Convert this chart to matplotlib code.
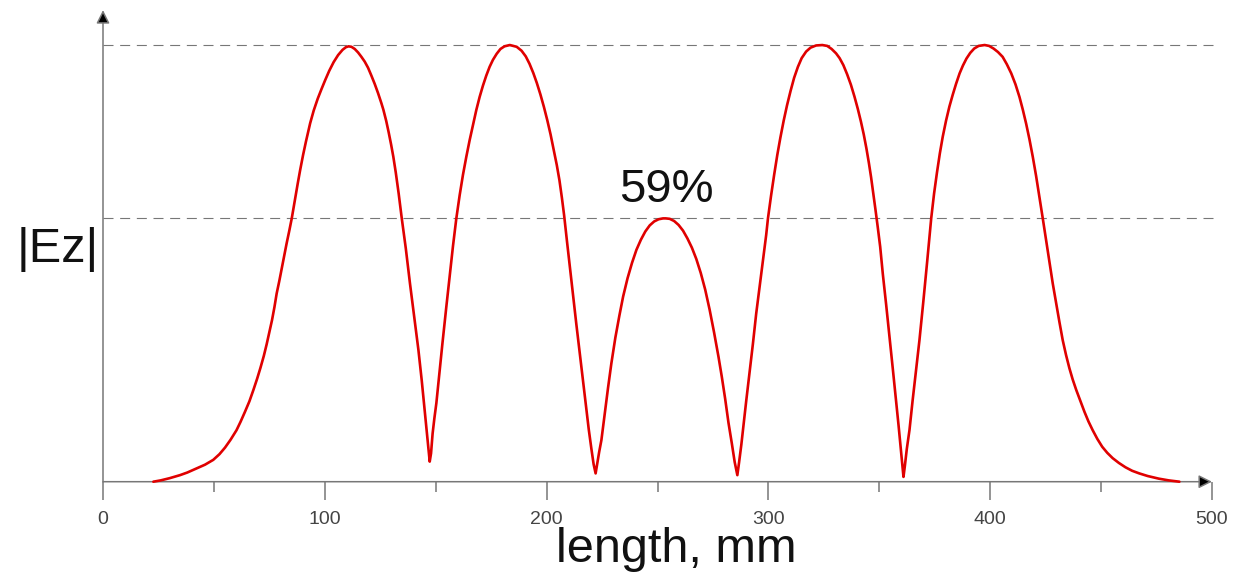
import matplotlib
matplotlib.use("Agg")
import matplotlib.pyplot as plt

# ---- data (length in mm, |Ez| normalised to peak = 1) ----
length_mm = [
    # lobe 1
    22.7, 26, 30, 34.7, 38, 42, 46, 49.7, 52.5, 55, 57.5, 60.2, 62, 64, 66, 67.8,
    69.5, 71, 72.5, 73.8, 75, 76.2, 77.3, 78.3, 79.5, 80.7, 81.8, 82.8, 84, 85.1,
    86.5, 87.8, 88.9, 90.2, 91.5, 93.4, 95, 96.8, 98.5, 100.2, 102, 104, 106, 108,
    109.5, 110.7, 112, 113.5, 115, 116.5, 118, 119.5, 121, 122.5, 124, 125.5, 126.4,
    127.7, 128.8, 129.9, 130.9, 132, 133.3, 134.7, 136.5, 138.4, 140.3, 142.2,
    143.7, 145, 146, 146.8,
    # lobe 2
    147.3, 147.9, 148.6, 149.4, 150.3, 151.5, 153, 154.8, 156.3, 157.8, 159.3,
    160.8, 162.3, 163.8, 165.3, 166.8, 168.3, 169.8, 171.3, 172.8, 174.3, 175.8,
    177.5, 179.2, 181, 183.4, 186.5, 188.7, 190.6, 192.3, 194, 195.6, 197.2, 198.8,
    200.3, 201.8, 203.2, 204.6, 205.8, 206.9, 207.9, 209.2, 210.6, 212.0, 213.4,
    214.9, 216.4, 217.8, 219, 220.2, 221.2,
    # lobe 3
    222.1, 222.8, 223.7, 224.7, 226.2, 227.7, 229.2, 231, 232.8, 234.5, 236.5,
    238.5, 240.5, 242.5, 244.5, 246.5, 248.5, 250.5, 252.5, 253.7, 255.5, 257.5,
    259.5, 261.5, 263.5, 265.5, 267.5, 269.5, 271.5, 273.5, 275.5, 277.5, 279,
    280.5, 282, 283.5, 284.8,
    # lobe 4
    286, 286.8, 287.8, 289, 290, 291.5, 293, 294.5, 296, 297.5, 299, 299.8, 301.2,
    302.6, 304, 305.4, 306.9, 308.4, 310, 311.6, 313.3, 315, 317, 319, 321.5, 324.3,
    326.5, 328.5, 330.5, 332.1, 333.8, 335.5, 337.2, 338.8, 340.3, 341.7, 343.0,
    344.2, 345.3, 346.3, 347.3, 348.3, 349.3, 350.4, 351.6, 353.1, 354.6, 356.1,
    357.6, 358.7, 359.7, 360.4,
    # lobe 5
    360.9, 361.5, 362.4, 363.6, 365, 366.5, 368.1, 369.8, 371.6, 373.4, 374.7, 376,
    377.3, 378.6, 380.1, 381.6, 383.1, 384.6, 386.2, 387.7, 389.3, 391, 392.8,
    394.8, 397.5, 399.5, 401.5, 403.5, 405.6, 407.5, 409.5, 411.4, 413.2, 414.7,
    416.2, 417.7, 419.2, 420.7, 422.2, 423.7, 425.2, 426.7, 428.2, 429.7, 431.2,
    432.7, 434.2, 435.7, 437.2, 438.8, 440.7, 442.5, 444.3, 446.2, 448.3, 450.5,
    452.8, 455.2, 458, 461, 464, 467.2, 471, 476, 480.5, 485.3,
]
ez_abs = [
    # lobe 1
    0.000, 0.003, 0.008, 0.015, 0.021, 0.030, 0.039, 0.050, 0.063, 0.078, 0.096,
    0.118, 0.137, 0.160, 0.184, 0.210, 0.236, 0.261, 0.288, 0.315, 0.342, 0.370,
    0.400, 0.431, 0.460, 0.492, 0.520, 0.546, 0.575, 0.603, 0.645, 0.683, 0.714,
    0.748, 0.779, 0.821, 0.850, 0.877, 0.899, 0.920, 0.941, 0.961, 0.977, 0.989,
    0.995, 0.997, 0.996, 0.991, 0.983, 0.973, 0.962, 0.948, 0.930, 0.911, 0.890,
    0.867, 0.852, 0.826, 0.800, 0.772, 0.744, 0.708, 0.660, 0.603, 0.535, 0.454,
    0.378, 0.302, 0.232, 0.165, 0.112, 0.070,
    # lobe 2
    0.046, 0.065, 0.110, 0.145, 0.180, 0.240, 0.315, 0.401, 0.470, 0.540, 0.603,
    0.656, 0.703, 0.744, 0.782, 0.817, 0.851, 0.881, 0.907, 0.930, 0.950, 0.966,
    0.980, 0.991, 0.997, 1.000, 0.996, 0.987, 0.974, 0.957, 0.936, 0.913, 0.887,
    0.858, 0.828, 0.795, 0.760, 0.725, 0.690, 0.650, 0.610, 0.550, 0.488, 0.424,
    0.361, 0.297, 0.233, 0.172, 0.120, 0.075, 0.040,
    # lobe 3
    0.019, 0.040, 0.068, 0.095, 0.156, 0.215, 0.271, 0.330, 0.380, 0.424, 0.466,
    0.501, 0.531, 0.554, 0.573, 0.587, 0.596, 0.601, 0.603, 0.603, 0.602, 0.597,
    0.588, 0.575, 0.557, 0.536, 0.510, 0.478, 0.440, 0.394, 0.342, 0.286, 0.240,
    0.190, 0.135, 0.088, 0.045,
    # lobe 4
    0.015, 0.045, 0.085, 0.140, 0.185, 0.250, 0.315, 0.385, 0.445, 0.505, 0.565,
    0.603, 0.655, 0.703, 0.748, 0.788, 0.827, 0.862, 0.895, 0.925, 0.950, 0.970,
    0.985, 0.994, 0.999, 1.000, 0.998, 0.991, 0.981, 0.970, 0.954, 0.933, 0.909,
    0.882, 0.854, 0.825, 0.795, 0.763, 0.730, 0.697, 0.660, 0.622, 0.583, 0.538,
    0.475, 0.405, 0.332, 0.258, 0.183, 0.128, 0.075, 0.038,
    # lobe 5
    0.011, 0.035, 0.075, 0.118, 0.185, 0.252, 0.324, 0.410, 0.505, 0.603, 0.660,
    0.708, 0.752, 0.790, 0.827, 0.859, 0.886, 0.911, 0.935, 0.953, 0.969, 0.982,
    0.992, 0.998, 1.000, 0.998, 0.992, 0.984, 0.973, 0.956, 0.935, 0.910, 0.881,
    0.852, 0.820, 0.784, 0.744, 0.700, 0.652, 0.603, 0.553, 0.503, 0.454, 0.410,
    0.366, 0.324, 0.290, 0.260, 0.234, 0.210, 0.184, 0.160, 0.138, 0.118, 0.098,
    0.080, 0.066, 0.054, 0.043, 0.033, 0.025, 0.019, 0.013, 0.007, 0.003, 0.000,
]
ref_levels = [1.0, 0.603]
x_major = [0, 100, 200, 300, 400, 500]
x_minor = [50, 150, 250, 350, 450]
annotation = "59%"
annotation_pos = (254, 0.64)

W, H = 1248, 579
fig = plt.figure(figsize=(W / 100, H / 100), dpi=100)
ax = fig.add_axes([103 / W, (H - 481.7) / H, (1212 - 103) / W, 471.6 / H])
ax.set_xlim(0, 500)
ax.set_ylim(0, 1.08)

for s in ax.spines.values():
    s.set_visible(False)

# reference dashed lines
for lv in ref_levels:
    ax.plot([0, 502.5], [lv, lv], color="#777777", lw=0.8,
            linestyle=(0, (9, 6)), clip_on=False, zorder=1)

# curve
ax.plot(length_mm, ez_abs, color="#e00000", lw=1.9, zorder=3,
        solid_joinstyle="round", solid_capstyle="round", clip_on=False)

# axes with arrows
arrow_kw = dict(arrowstyle="-|>", lw=1.1, mutation_scale=20, shrinkA=0,
                shrinkB=0, fc="black", ec="#777777")
ax.annotate("", xy=(1, 0), xytext=(0, 0), xycoords="axes fraction",
            arrowprops=arrow_kw, zorder=2)
ax.annotate("", xy=(0, 1), xytext=(0, 0), xycoords="axes fraction",
            arrowprops=arrow_kw, zorder=2)

ax.set_xticks(x_major)
ax.set_xticks(x_minor, minor=True)
ax.set_yticks([])
ax.tick_params(axis="x", which="major", direction="out", length=13, width=1.1,
               color="#777777", pad=8, labelsize=14, labelcolor="#444444")
ax.tick_params(axis="x", which="minor", direction="out", length=7, width=1.1,
               color="#777777")
for lab in ax.get_xticklabels():
    lab.set_fontfamily("Liberation Sans")

ax.text(annotation_pos[0], annotation_pos[1], annotation, ha="center",
        va="baseline", fontsize=34, family="Liberation Sans", color="#111111")

fig.text(676 / W, (H - 562) / H, "length, mm", ha="center", va="baseline",
         fontsize=35, family="Liberation Sans", color="#111111")
fig.text(58 / W, (H - 262) / H, "|Ez|", ha="center", va="baseline",
         fontsize=35, family="Liberation Sans", color="#111111")

fig.savefig("out.png", dpi=100, facecolor="white")
